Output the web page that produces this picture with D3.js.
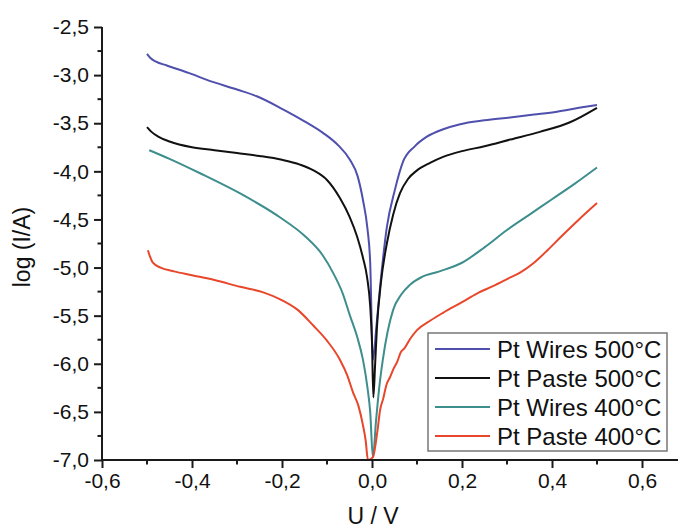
<!DOCTYPE html>
<html>
<head>
<meta charset="utf-8">
<script src="https://cdn.jsdelivr.net/npm/d3@7"></script>
<style>
  html, body { margin: 0; padding: 0; background: #fff; }
  svg text { font-family: "Liberation Sans", Arial, sans-serif; fill: #111; }
</style>
</head>
<body>
<svg id="chart" width="678" height="530"></svg>
<script>
// ---- data ----
const xTicks = [-0.6, -0.4, -0.2, 0.0, 0.2, 0.4, 0.6];
const yTicks = [-2.5, -3.0, -3.5, -4.0, -4.5, -5.0, -5.5, -6.0, -6.5, -7.0];
const seriesNames = ["Pt Wires 500°C", "Pt Paste 500°C", "Pt Wires 400°C", "Pt Paste 400°C"];
const seriesColors = ["#4f4fae", "#111111", "#3d8e8c", "#e8472b"];

const wires500U = [-0.500, -0.493, -0.480, -0.456, -0.400, -0.367, -0.300, -0.256, -0.200, -0.150, -0.109, -0.075, -0.049, -0.032, -0.020, -0.010, -0.004, 0.002, 0.010, 0.018, 0.033, 0.051, 0.069, 0.095, 0.122, 0.160, 0.196, 0.250, 0.307, 0.360, 0.411, 0.460, 0.500];
const wires500I = [-2.78, -2.82, -2.86, -2.90, -2.99, -3.05, -3.15, -3.22, -3.35, -3.48, -3.60, -3.73, -3.88, -4.05, -4.30, -4.60, -4.95, -5.96, -5.60, -5.20, -4.58, -4.19, -3.90, -3.74, -3.64, -3.56, -3.51, -3.47, -3.44, -3.41, -3.38, -3.34, -3.31];

const paste500U = [-0.500, -0.490, -0.475, -0.450, -0.400, -0.350, -0.300, -0.250, -0.200, -0.160, -0.130, -0.100, -0.071, -0.050, -0.033, -0.020, -0.011, -0.004, 0.000, 0.003, 0.007, 0.011, 0.020, 0.033, 0.047, 0.062, 0.080, 0.100, 0.130, 0.158, 0.200, 0.250, 0.307, 0.373, 0.440, 0.500];
const paste500I = [-3.54, -3.59, -3.64, -3.69, -3.75, -3.78, -3.81, -3.84, -3.88, -3.93, -3.99, -4.09, -4.28, -4.47, -4.68, -4.90, -5.10, -5.40, -5.78, -6.35, -6.00, -5.62, -5.15, -4.75, -4.45, -4.23, -4.08, -3.99, -3.91, -3.85, -3.79, -3.74, -3.67, -3.59, -3.49, -3.34];

const wires400U = [-0.495, -0.450, -0.382, -0.293, -0.204, -0.150, -0.110, -0.087, -0.065, -0.049, -0.033, -0.020, -0.010, -0.004, 0.002, 0.009, 0.016, 0.024, 0.035, 0.047, 0.065, 0.084, 0.110, 0.150, 0.200, 0.250, 0.300, 0.350, 0.400, 0.450, 0.500];
const wires400I = [-3.78, -3.87, -4.02, -4.23, -4.48, -4.67, -4.87, -5.05, -5.27, -5.50, -5.72, -5.96, -6.25, -6.50, -6.97, -6.59, -6.25, -5.96, -5.66, -5.44, -5.28, -5.18, -5.10, -5.04, -4.95, -4.79, -4.61, -4.45, -4.29, -4.13, -3.96];

const paste400U = [-0.498, -0.493, -0.487, -0.470, -0.440, -0.400, -0.350, -0.293, -0.240, -0.204, -0.165, -0.131, -0.100, -0.071, -0.055, -0.042, -0.030, -0.020, -0.014, -0.009, 0.002, 0.012, 0.018, 0.025, 0.032, 0.040, 0.048, 0.056, 0.064, 0.072, 0.085, 0.100, 0.130, 0.158, 0.200, 0.233, 0.270, 0.300, 0.330, 0.360, 0.390, 0.420, 0.460, 0.500];
const paste400I = [-4.82, -4.89, -4.95, -5.00, -5.04, -5.08, -5.13, -5.20, -5.26, -5.33, -5.44, -5.60, -5.76, -5.96, -6.12, -6.30, -6.44, -6.64, -6.80, -7.00, -6.97, -6.70, -6.48, -6.36, -6.22, -6.14, -6.05, -5.98, -5.88, -5.84, -5.74, -5.65, -5.55, -5.47, -5.36, -5.27, -5.19, -5.12, -5.05, -4.95, -4.82, -4.68, -4.50, -4.33];

const seriesU = [wires500U, paste500U, wires400U, paste400U];
const seriesI = [wires500I, paste500I, wires400I, paste400I];

// ---- layout ----
const svg = d3.select("#chart");
const x = d3.scaleLinear().domain([-0.6, 0.68]).range([102, 678]);
const y = d3.scaleLinear().domain([-7.0, -2.5]).range([460, 27]);

const line = d3.line()
  .x(d => x(d[0]))
  .y(d => y(d[1]))
  .curve(d3.curveMonotoneX);

svg.append("defs").append("clipPath").attr("id", "clip")
  .append("rect").attr("x", 102).attr("y", 20).attr("width", 576).attr("height", 440);

const plot = svg.append("g").attr("clip-path", "url(#clip)");
seriesNames.forEach((name, k) => {
  const pts = seriesU[k].map((u, i) => [u, seriesI[k][i]]);
  plot.append("path")
    .attr("d", line(pts))
    .attr("fill", "none")
    .attr("stroke", seriesColors[k])
    .attr("stroke-width", 2)
    .attr("stroke-linejoin", "round");
});

// axes
const axisColor = "#1a1a1a";
const fmt = d => d3.format(".1f")(d).replace(".", ",").replace("−", "-");
const xAxis = d3.axisBottom(x).tickValues(xTicks).tickSize(8).tickPadding(5).tickFormat(fmt);
const gx = svg.append("g").attr("transform", "translate(0,460)").call(xAxis);
gx.select(".domain").attr("d", `M${x.range()[0]},0H${x.range()[1]}`);
const xMinor = d3.range(-0.5, 0.65, 0.2);
gx.selectAll(".minor").data(xMinor).enter().append("line")
  .attr("class", "minor").attr("x1", d => x(d)).attr("x2", d => x(d))
  .attr("y1", 0).attr("y2", 4.5);

const yAxis = d3.axisLeft(y).tickValues(yTicks).tickSize(8).tickPadding(5).tickFormat(fmt);
const gy = svg.append("g").attr("transform", "translate(102,0)").call(yAxis);
gy.select(".domain").attr("d", `M0,${y(-2.5)}V${y(-7.0)}`);
const yMinor = d3.range(-2.75, -6.9, -0.5);
gy.selectAll(".minor").data(yMinor).enter().append("line")
  .attr("class", "minor").attr("x1", 0).attr("x2", -4.5)
  .attr("y1", d => y(d)).attr("y2", d => y(d));

[gx, gy].forEach(g => {
  g.select(".domain").attr("stroke", axisColor).attr("stroke-width", 2);
  g.selectAll(".tick line, line.minor").attr("stroke", axisColor).attr("stroke-width", 2);
  g.selectAll("text").attr("font-size", 21).attr("fill", "#111")
    .attr("font-family", "Liberation Sans, Arial, sans-serif");
});

// axis titles
svg.append("text").attr("x", 373).attr("y", 524)
  .attr("text-anchor", "middle").attr("font-size", 23).text("U / V");
svg.append("text")
  .attr("transform", "translate(30,247) rotate(-90)")
  .attr("text-anchor", "middle").attr("font-size", 23).text("log (I/A)");

// legend
const lg = svg.append("g");
lg.append("rect").attr("x", 428).attr("y", 333).attr("width", 239).attr("height", 118)
  .attr("fill", "#fff").attr("stroke", "#777").attr("stroke-width", 1.5);
seriesNames.forEach((name, k) => {
  const cy = 349 + k * 29;
  lg.append("line").attr("x1", 435).attr("x2", 490).attr("y1", cy).attr("y2", cy)
    .attr("stroke", seriesColors[k]).attr("stroke-width", 2);
  lg.append("text").attr("x", 497).attr("y", cy + 8.5).attr("font-size", 24).text(name);
});
</script>
</body>
</html>
